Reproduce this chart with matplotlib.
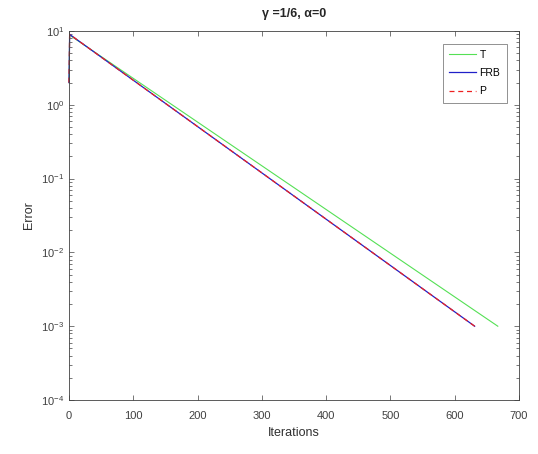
import matplotlib
matplotlib.use('Agg')
import matplotlib.pyplot as plt
from matplotlib.ticker import LogLocator, NullFormatter

plt.rcParams['font.family'] = ['Liberation Sans', 'DejaVu Sans']

# points (iteration, error); lines are straight on log axis
t_iter = [0, 1, 667]
t_err = [2.0, 8.8, 1e-3]
frb_iter = [0, 1, 631]
frb_err = [2.0, 9.0, 1e-3]
p_iter = [0, 1, 631]
p_err = [2.0, 9.0, 1e-3]

labels = ['T', 'FRB', 'P']
title = '\u03b3 =1/6, \u03b1=0'

fig = plt.figure(figsize=(5.38, 4.54), dpi=100)
ax = fig.add_axes([69 / 538, 1 - 400 / 454, 450 / 538, 369 / 454])

ax.semilogy(t_iter, t_err, color='#55e055', linewidth=0.8, label=labels[0], clip_on=False)
ax.semilogy(frb_iter, frb_err, color='#2020c8', linewidth=0.9, label=labels[1], clip_on=False)
ax.semilogy(p_iter, p_err, color='#ee2020', linewidth=0.9, linestyle=(0, (4, 3)),
            label=labels[2], clip_on=False)

ax.set_xlim(0, 700)
ax.set_ylim(1e-4, 1e1)
ax.set_xticks(range(0, 701, 100))
ax.yaxis.set_major_locator(LogLocator(base=10, numticks=10))
ax.yaxis.set_minor_locator(LogLocator(base=10, subs=range(2, 10), numticks=10))
ax.yaxis.set_minor_formatter(NullFormatter())

ax.tick_params(which='both', direction='in', top=True, right=True,
               labelsize=8, colors='#404040', labelcolor='#404040')
ax.tick_params(which='major', length=3.5, width=0.5)
ax.tick_params(axis='x', pad=8)
ax.tick_params(which='minor', length=2, width=0.5)
for s in ax.spines.values():
    s.set_color('#404040')
    s.set_linewidth(0.6)

ax.set_xlabel('Iterations', fontsize=9, color='#303030', labelpad=4)
ax.set_ylabel('Error', fontsize=9, color='#303030', labelpad=4)
ax.set_title(title, fontsize=9, fontweight='bold', color='#262626', pad=10)

leg = ax.legend(loc='upper right', fontsize=7.5, frameon=True, fancybox=False,
                edgecolor='#404040', handlelength=2.6, borderaxespad=1.2,
                handletextpad=0.3, labelspacing=0.8, borderpad=0.6)
leg.get_frame().set_linewidth(0.5)

fig.savefig('out.png', dpi=100)
